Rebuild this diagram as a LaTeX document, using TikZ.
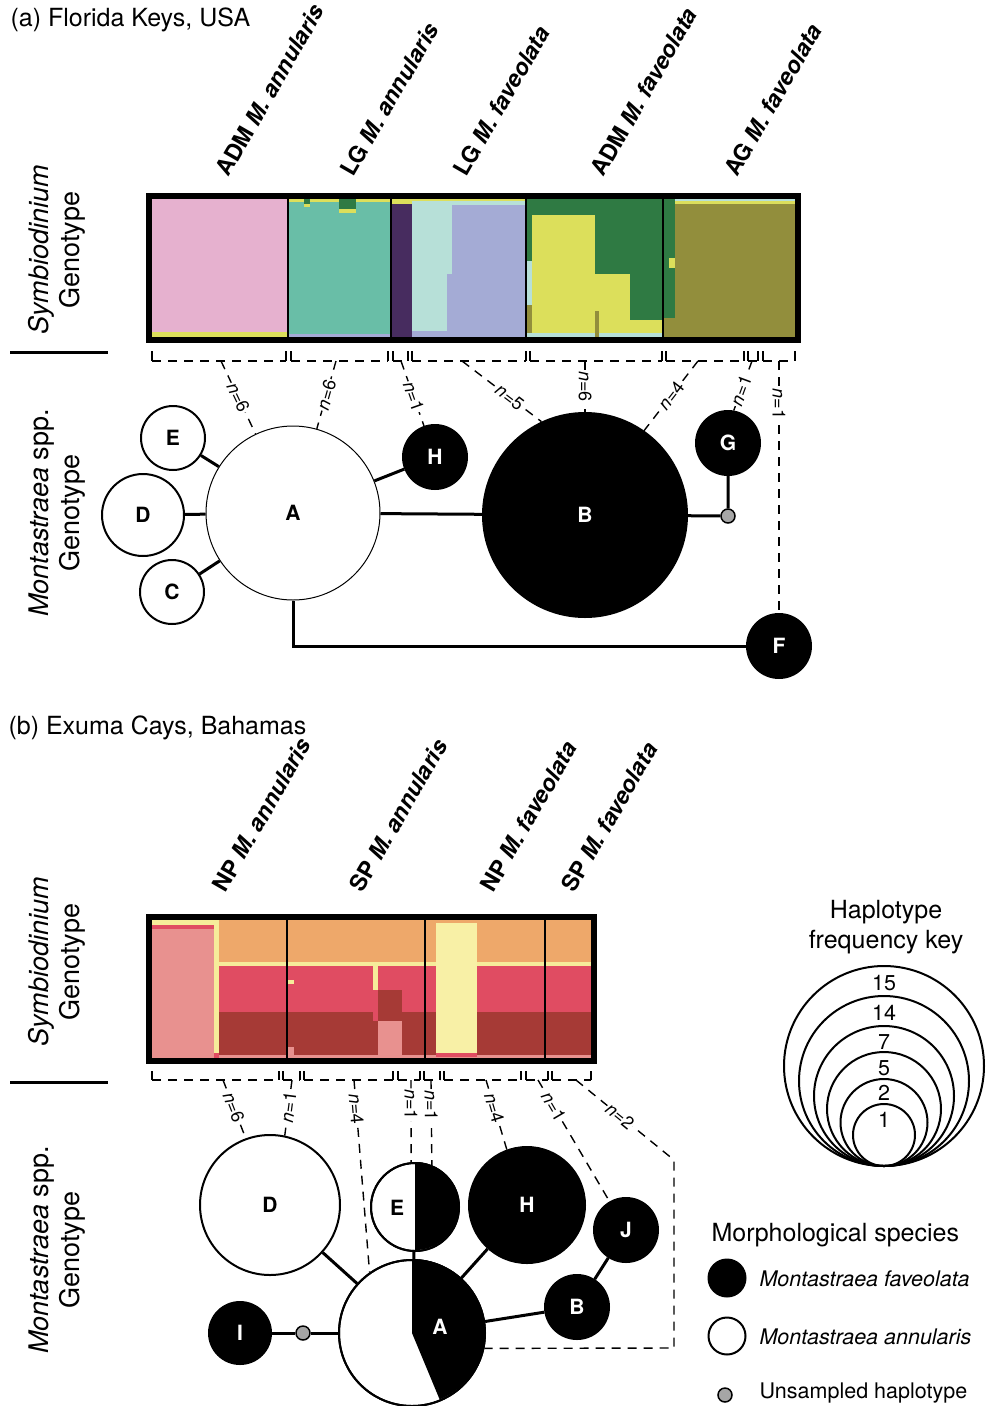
\documentclass[tikz,border=0pt]{standalone}
\usepackage{fontspec}
\setmainfont{TeX Gyre Heros}

\newcommand{\hdfont}{\fontsize{25}{30}\selectfont}
\newcommand{\sdfont}{\fontsize{27}{31}\selectfont}
\newcommand{\grpfont}{\fontsize{23}{27}\selectfont\bfseries}
\newcommand{\hapfont}{\fontsize{21}{25}\selectfont\bfseries}
\newcommand{\nfont}{\fontsize{18}{21}\selectfont}
\newcommand{\legfont}{\fontsize{21.5}{26}\selectfont}

\definecolor{pinkA}{HTML}{E6B1CF}
\definecolor{tealA}{HTML}{69BEA7}
\definecolor{purpA}{HTML}{472C5F}
\definecolor{cyanA}{HTML}{B7E0D8}
\definecolor{lavA}{HTML}{A4ABD5}
\definecolor{grnA}{HTML}{2F7A43}
\definecolor{yelA}{HTML}{DCDF5B}
\definecolor{oliA}{HTML}{928E3C}
\definecolor{orgB}{HTML}{EEA86A}
\definecolor{redB}{HTML}{E04C62}
\definecolor{dredB}{HTML}{A63A36}
\definecolor{salB}{HTML}{E8918F}
\definecolor{yelB}{HTML}{F6EC9A}
\definecolor{pylB}{HTML}{F8F0A6}
\definecolor{grayU}{HTML}{A6A6A6}

\tikzset{
  hapw/.style={draw,circle,fill=white,line width=2pt,inner sep=0pt,font=\hapfont},
  hapb/.style={draw,circle,fill=black,text=white,line width=2pt,inner sep=0pt,font=\hapfont},
  unsamp/.style={draw,circle,fill=grayU,line width=1.5pt,minimum size=14pt,inner sep=0pt},
  link/.style={line width=3pt},
  tail/.style={dash pattern=on 9pt off 7pt,line width=1.4pt},
  tick/.style={line width=1.4pt},
  nlab/.style={fill=white,inner sep=1pt,sloped,font=\nfont},
  grplab/.style={rotate=60,anchor=base west,font=\grpfont},
  sidelab/.style={rotate=90,align=center,font=\sdfont},
  keyring/.style={draw,circle,line width=2pt,inner sep=0pt,anchor=south},
}

\begin{document}
\begin{tikzpicture}[x=1pt,y=-1pt]
        \useasboundingbox (0,0) rectangle (986,1406);
        %% (a) Florida Keys
        \node[anchor=west,font=\hdfont] (ttlA) at (7,20) {(a) Florida Keys, USA};
        \node[grplab] (gA1) at (227,181) {ADM \textit{M. annularis}};
        \node[grplab] (gA2) at (352,181) {LG \textit{M. annularis}};
        \node[grplab] (gA3) at (465,181) {LG \textit{M. faveolata}};
        \node[grplab] (gA4) at (602,181) {ADM \textit{M. faveolata}};
        \node[grplab] (gA5) at (736,181) {AG \textit{M. faveolata}};
        \node[sidelab] (symA) at (57,250) {\textit{Symbiodinium}\\Genotype};
        \draw[link] (10,352) -- (108,352);
        \node[sidelab] (monA) at (57,513) {\textit{Montastraea} spp.\\Genotype};
        %% Bar (a)
        \fill[pinkA] (151,199) rectangle (288,337);
        \fill[yelA] (151,332) rectangle (288,337);
        \fill[tealA] (288,199) rectangle (391,337);
        \fill[yelA] (288,199) rectangle (391,202);
        \fill[grnA] (339,199) rectangle (356,209);
        \fill[yelA] (339,209) rectangle (356,213);
        \fill[grnA] (304,199) rectangle (310,204);
        \fill[yelA] (304,204) rectangle (310,207);
        \fill[lavA] (288,334) rectangle (391,337);
        \fill[purpA] (391,204) rectangle (412,337);
        \fill[yelA] (391,199) rectangle (412,204);
        \fill[cyanA] (412,199) rectangle (452,337);
        \fill[lavA] (447,274) rectangle (526,337);
        \fill[lavA] (452,205) rectangle (526,274);
        \fill[cyanA] (452,199) rectangle (526,205);
        \fill[yelA] (412,199) rectangle (526,201);
        \fill[lavA] (412,331) rectangle (447,337);
        \fill[grnA] (526,199) rectangle (663,337);
        \fill[yelA] (532,215) rectangle (595,333);
        \fill[yelA] (595,274) rectangle (630,333);
        \fill[yelA] (630,320) rectangle (663,333);
        \fill[cyanA] (526,261) rectangle (532,305);
        \fill[oliA] (526,305) rectangle (532,333);
        \fill[cyanA] (526,333) rectangle (663,337);
        \fill[oliA] (595,311) rectangle (599,337);
        \fill[oliA] (663,199) rectangle (795,337);
        \fill[cyanA] (675,199) rectangle (795,201);
        \fill[yelA] (675,201) rectangle (795,204);
        \fill[grnA] (663,199) rectangle (675,318);
        \fill[yelA] (669,258) rectangle (675,268);
        \foreach \xd in {288,391,526,663}
            \draw[line width=1.3pt] (\xd,199) -- (\xd,337);
        \draw[line width=6pt] (148.5,196) rectangle (797.5,340);
        %% Brackets (a)
        \foreach \xa/\xb in {152/286,291/388,393/408,412/526,530/662,666/744,748/758,763/795}{
            \draw[tick] (\xa,351) -- (\xa,361) (\xb,351) -- (\xb,361);
            \draw[tail] (\xa,361) -- (\xb,361);
        }
        \coordinate (ta1) at (221,361);
        \coordinate (ta2) at (336,361);
        \coordinate (ta3) at (401,361);
        \coordinate (ta4) at (462,361);
        \coordinate (ta5) at (585,361);
        \coordinate (ta6) at (698,361);
        \coordinate (ta7) at (752,361);
        \coordinate (ta8) at (779,361);
        %% Network (a)
        \node[hapw,line width=1pt,minimum size=174pt] (hA) at (293,513) {A};
        \node[hapw,minimum size=64pt] (hE) at (173,438) {E};
        \node[hapw,minimum size=82pt] (hD) at (143,515) {D};
        \node[hapw,minimum size=64pt] (hC) at (172,592) {C};
        \node[hapb,minimum size=64pt] (hH) at (435,457) {H};
        \node[hapb,minimum size=204pt] (hB) at (585,515) {B};
        \node[hapb,minimum size=64pt] (hG) at (728,443) {G};
        \node[unsamp] (uG) at (728,516) {};
        \node[hapb,minimum size=64pt] (hF) at (779,646) {F};
        \draw[link] (hE) -- (hA);
        \draw[link] (hD) -- (hA);
        \draw[link] (hC) -- (hA);
        \draw[link] (hH) -- (hA);
        \draw[link] (hA) -- (hB);
        \draw[link] (hB) -- (uG) -- (hG);
        \draw[link] (hA.south) |- (hF);
        %% Tails (a)
        \draw[tail] (ta1) -- (hA) node[nlab,pos=0.5] {\textit{n}=6};
        \draw[tail] (ta2) -- (hA) node[nlab,pos=0.5] {\textit{n}=6};
        \draw[tail] (ta3) -- (hH) node[nlab,pos=0.55] {\textit{n}=1};
        \draw[tail] (ta4) -- (hB.115) node[nlab,pos=0.6] {\textit{n}=5};
        \draw[tail] (ta5) -- (hB.north) node[nlab,pos=0.5] {\textit{n}=6};
        \draw[tail] (ta6) -- (hB.55) node[nlab,pos=0.5] {\textit{n}=4};
        \draw[tail] (ta7) -- (hG.80) node[nlab,pos=0.6] {\textit{n}=1};
        \draw[tail] (ta8) -- (hF) node[nlab,pos=0.17] {\textit{n}=1};

        %% (b) Exuma Cays
        \node[anchor=west,font=\hdfont] (ttlB) at (5,728) {(b) Exuma Cays, Bahamas};
        \node[grplab] (gB1) at (224,897) {NP \textit{M. annularis}};
        \node[grplab] (gB2) at (361,897) {SP \textit{M. annularis}};
        \node[grplab] (gB3) at (492,897) {NP \textit{M. faveolata}};
        \node[grplab] (gB4) at (573,897) {SP \textit{M. faveolata}};
        \node[sidelab] (symB) at (57,962) {\textit{Symbiodinium}\\Genotype};
        \draw[link] (10,1082) -- (108,1082);
        \node[sidelab] (monB) at (57,1250) {\textit{Montastraea} spp.\\Genotype};
        %% Bar (b)
        \fill[orgB] (152,920) rectangle (591,962);
        \fill[yelB] (152,962) rectangle (591,966);
        \fill[redB] (152,966) rectangle (591,1012);
        \fill[dredB] (152,1012) rectangle (591,1055);
        \fill[salB] (152,1055) rectangle (591,1058);
        \fill[salB] (152,920) rectangle (214,1058);
        \fill[yelB] (152,920) rectangle (214,925);
        \fill[redB] (152,925) rectangle (214,929);
        \fill[yelB] (214,920) rectangle (219,1053);
        \fill[redB] (214,1053) rectangle (219,1058);
        \fill[yelB] (288,980) rectangle (294,984);
        \fill[salB] (288,1047) rectangle (294,1058);
        \fill[yelB] (373,966) rectangle (378,990);
        \fill[redB] (373,990) rectangle (378,1021);
        \fill[dredB] (378,990) rectangle (402,1021);
        \fill[salB] (378,1021) rectangle (402,1058);
        \fill[pylB] (436,923) rectangle (477,1053);
        \fill[redB] (436,1053) rectangle (477,1057);
        \foreach \xd in {287,425,545}
            \draw[line width=1.3pt] (\xd,920) -- (\xd,1058);
        \draw[line width=6pt] (149,917) rectangle (594,1061);
        %% Brackets (b)
        \foreach \xa/\xb in {152/279,283/300,304/393,398/420,424/440,444/521,526/548,552/591}{
            \draw[tick] (\xa,1071) -- (\xa,1080) (\xb,1071) -- (\xb,1080);
            \draw[tail] (\xa,1080) -- (\xb,1080);
        }
        \coordinate (tb1) at (223,1080);
        \coordinate (tb2) at (292,1080);
        \coordinate (tb3) at (354,1080);
        \coordinate (tb4) at (411,1080);
        \coordinate (tb5) at (431,1080);
        \coordinate (tb6) at (486,1080);
        \coordinate (tb7) at (538,1080);
        \coordinate (tb8) at (576,1080);
        \coordinate (cb1) at (674,1160);
        \coordinate (cb2) at (674,1348);
        %% Network (b)
        \node[hapw,minimum size=140pt] (hD2) at (270,1205) {D};
        \node[hapw,minimum size=88pt] (hE2) at (415,1207) {};
        \fill (hE2.north) arc[start angle=-90,end angle=90,radius=44] -- cycle;
        \draw[line width=2pt] (hE2.center) circle[radius=44];
        \node[font=\hapfont] (lE2) at (397,1208) {E};
        \node[hapb,minimum size=116pt] (hH2) at (527,1205) {H};
        \node[hapb,minimum size=64pt] (hJ2) at (626,1230) {J};
        \node[hapb,minimum size=64pt] (hB2) at (577,1307) {B};
        \node[hapw,minimum size=146pt] (hA2) at (412,1333) {};
        \fill (hA2.center) -- (hA2.north) arc[start angle=-90,end angle=67.7,radius=73] -- cycle;
        \draw[line width=2pt] (hA2.center) circle[radius=73];
        \node[font=\hapfont,text=white] (lA2) at (440,1327) {A};
        \node[hapb,minimum size=62pt] (hI2) at (240,1333) {I};
        \node[unsamp] (uI) at (303,1333) {};
        \draw[link] (hD2) -- (hA2);
        \draw[link] (hE2) -- (hA2);
        \draw[link] (hH2) -- (hA2);
        \draw[link] (hA2) -- (hB2);
        \draw[link] (hB2) -- (hJ2);
        \draw[link] (hI2) -- (uI) -- (hA2);
        %% Tails (b)
        \draw[tail] (tb1) -- (hD2.110) node[nlab,pos=0.47] {\textit{n}=6};
        \draw[tail] (tb2) -- (hD2.78) node[nlab,pos=0.49] {\textit{n}=1};
        \draw[tail] (tb3) -- (hA2.125) node[nlab,pos=0.15] {\textit{n}=4};
        \draw[tail] (tb4) -- (hE2.95) node[nlab,pos=0.3] {\textit{n}=1};
        \draw[tail] (tb5) -- (hE2.68) node[nlab,pos=0.3] {\textit{n}=1};
        \draw[tail] (tb6) -- (hH2.110) node[nlab,pos=0.4] {\textit{n}=4};
        \draw[tail] (tb7) -- (hJ2.120) node[nlab,pos=0.22] {\textit{n}=1};
        \draw[tail] (tb8) -- (cb1) node[nlab,pos=0.45] {\textit{n}=2} -- (cb2) -- (hA2.-12);

        %% Key
        \node[align=center,font=\hdfont] (keyT) at (886,927) {Haplotype\\frequency key};
        \foreach \dd/\vv/\yy in {200/15/983,170/14/1013,140/7/1042,114/5/1068,87/2/1093,62/1/1120}{
            \node[keyring,minimum size=\dd pt] (k\vv) at (884,1167) {};
            \node[font=\legfont] (kn\vv) at (884,\yy) {\vv};
        }
        %% Legend
        \node[anchor=west,font=\hdfont] (legT) at (708,1235) {Morphological species};
        \node[hapb,minimum size=37pt] (legF) at (727,1278) {};
        \node[anchor=west,font=\legfont] (legFt) at (756,1279) {\textit{Montastraea faveolata}};
        \node[hapw,minimum size=37pt] (legA) at (727,1336) {};
        \node[anchor=west,font=\legfont] (legAt) at (756,1337) {\textit{Montastraea annularis}};
        \node[unsamp] (legU) at (725,1395) {};
        \node[anchor=west,font=\legfont] (legUt) at (756,1393) {Unsampled haplotype};
\end{tikzpicture}
\end{document}
